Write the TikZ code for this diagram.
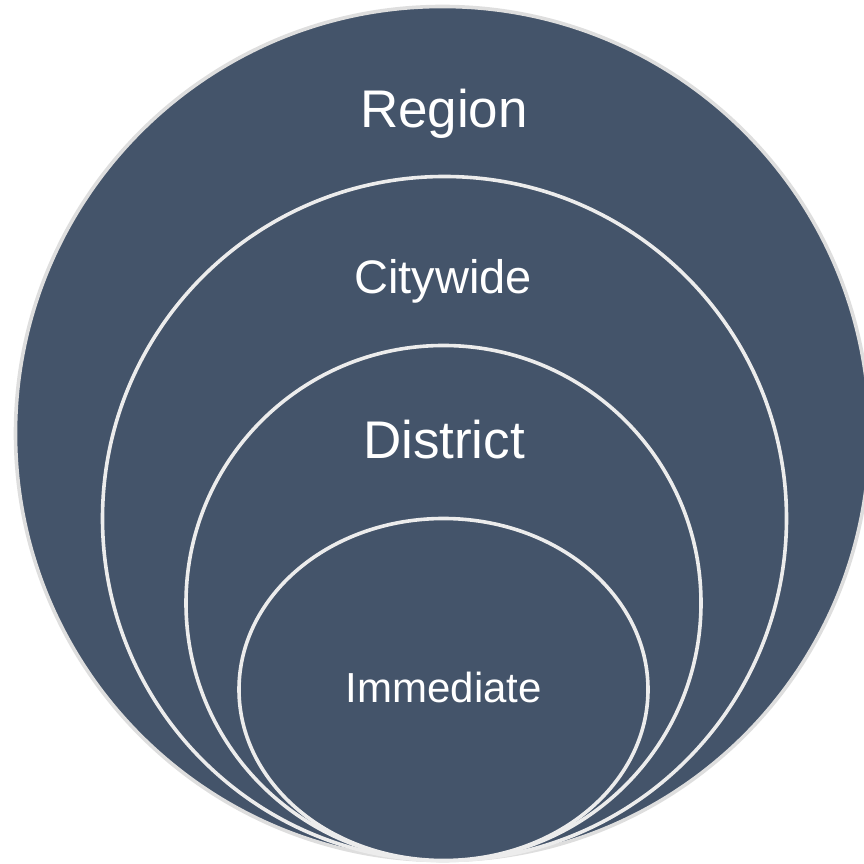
\documentclass[tikz,border=0pt]{standalone}
\usepackage{fontspec}
\setmainfont{Liberation Sans}
\usetikzlibrary{shapes.geometric}
\definecolor{slate}{HTML}{44546A}
\definecolor{rimgray}{HTML}{DEDEDE}
\definecolor{rimwhite}{HTML}{ECECEC}

\begin{document}
\begin{tikzpicture}[
    x=1pt, y=1pt,
    ring/.style={circle, draw=rimwhite, fill=slate, line width=3.6pt, inner sep=0pt},
    oval/.style={ellipse, draw=rimwhite, fill=slate, line width=3.6pt, inner sep=0pt},
    tag/.style={text=white, anchor=base, inner sep=0pt}
]
\useasboundingbox (0,0) rectangle (863,864);

% Anillos (todos tangentes abajo)
\node[ring, draw=rimgray, minimum size=854pt] (region) at (442.5,430.5) {};
\node[ring, minimum size=684pt] (citywide) at (444.5,345.5) {};
\node[ring, minimum size=515pt] (district) at (443.5,261) {};
\node[oval, minimum width=409pt, minimum height=342pt] (immediate) at (443.5,174.5) {};

% Etiquetas
\node[tag, font=\fontsize{53}{60}\selectfont] (regionlbl) at (444,736) {Region};
\node[tag, font=\fontsize{47}{54}\selectfont] (citylbl) at (443,570) {Citywide};
\node[tag, font=\fontsize{53}{60}\selectfont] (districtlbl) at (444,405) {District};
\node[tag, font=\fontsize{42}{50}\selectfont] (immlbl) at (444,161) {Immediate};

\end{tikzpicture}
\end{document}
